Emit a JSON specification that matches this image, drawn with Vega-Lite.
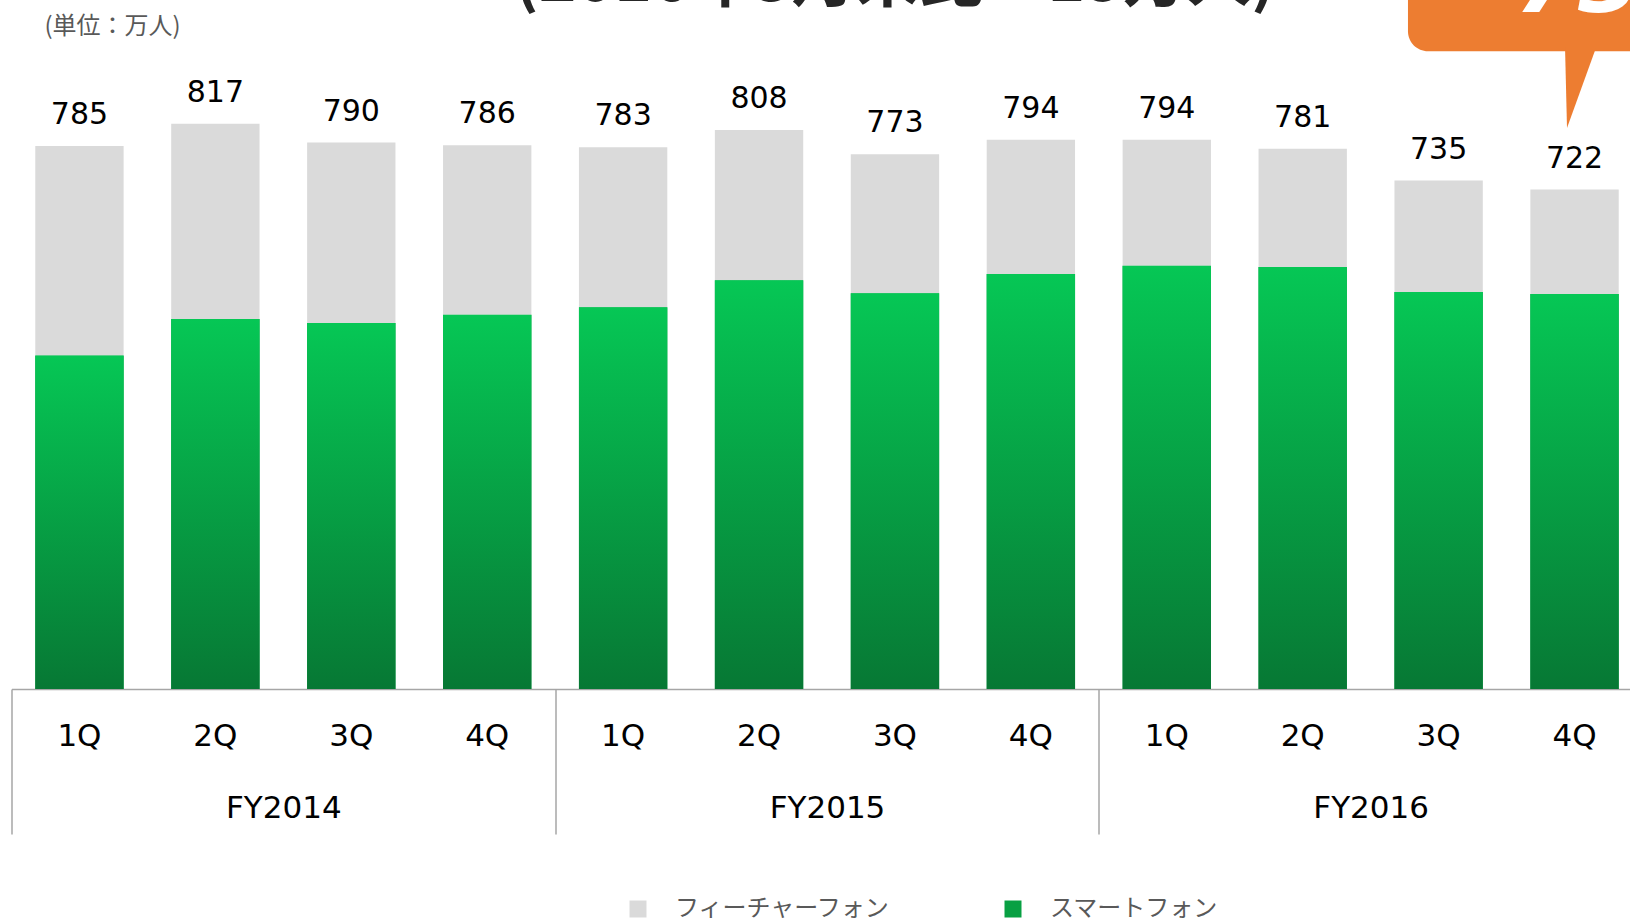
{
  "$schema": "https://vega.github.io/schema/vega-lite/v6.json",
  "width": 1618.5,
  "height": 689,
  "autosize": {"type": "none"},
  "padding": {"left": 11.5, "top": 0, "right": 0, "bottom": 234},
  "background": "white",
  "config": {"view": {"stroke": null}, "font": "DejaVu Sans"},
  "datasets": {
    "q": [
      {"period": "2014-1Q", "series": "スマートフォン", "value": 482},
      {"period": "2014-1Q", "series": "フィーチャーフォン", "value": 303},
      {"period": "2014-2Q", "series": "スマートフォン", "value": 535},
      {"period": "2014-2Q", "series": "フィーチャーフォン", "value": 282},
      {"period": "2014-3Q", "series": "スマートフォン", "value": 529},
      {"period": "2014-3Q", "series": "フィーチャーフォン", "value": 261},
      {"period": "2014-4Q", "series": "スマートフォン", "value": 541},
      {"period": "2014-4Q", "series": "フィーチャーフォン", "value": 245},
      {"period": "2015-1Q", "series": "スマートフォン", "value": 552},
      {"period": "2015-1Q", "series": "フィーチャーフォン", "value": 231},
      {"period": "2015-2Q", "series": "スマートフォン", "value": 591},
      {"period": "2015-2Q", "series": "フィーチャーフォン", "value": 217},
      {"period": "2015-3Q", "series": "スマートフォン", "value": 572},
      {"period": "2015-3Q", "series": "フィーチャーフォン", "value": 201},
      {"period": "2015-4Q", "series": "スマートフォン", "value": 600},
      {"period": "2015-4Q", "series": "フィーチャーフォン", "value": 194},
      {"period": "2016-1Q", "series": "スマートフォン", "value": 612},
      {"period": "2016-1Q", "series": "フィーチャーフォン", "value": 182},
      {"period": "2016-2Q", "series": "スマートフォン", "value": 610},
      {"period": "2016-2Q", "series": "フィーチャーフォン", "value": 171},
      {"period": "2016-3Q", "series": "スマートフォン", "value": 574},
      {"period": "2016-3Q", "series": "フィーチャーフォン", "value": 161},
      {"period": "2016-4Q", "series": "スマートフォン", "value": 571},
      {"period": "2016-4Q", "series": "フィーチャーフォン", "value": 151}
    ],
    "fy": [{"fy": "FY2014"}, {"fy": "FY2015"}, {"fy": "FY2016"}]
  },
  "layer": [
    {
      "layer": [
        {
          "data": {"name": "q"},
          "mark": {"type": "bar"},
          "encoding": {
            "x": {"field": "period", "type": "nominal",
              "scale": {"type": "band", "domain": ["2014-1Q","2014-2Q","2014-3Q","2014-4Q","2015-1Q","2015-2Q","2015-3Q","2015-4Q","2016-1Q","2016-2Q","2016-3Q","2016-4Q"], "paddingInner": 0.35, "paddingOuter": 0.175, "range": [0, 1631]},
              "axis": {"title": null, "orient": "bottom", "labelExpr": "substring(datum.value, 5)", "ticks": false, "domain": true, "domainColor": "#a6a6a6", "domainWidth": 1.5, "labelFontSize": 31, "labelFont": "DejaVu Sans", "labelColor": "#000000", "labelPadding": 56, "labelBaseline": "alphabetic", "labelAngle": 0, "grid": false}},
            "y": {"field": "value", "type": "quantitative", "stack": "zero",
              "scale": {"domain": [0, 996], "nice": false},
              "axis": {"title": "(単位：万人)", "domain": false, "ticks": false, "labels": false, "grid": false, "titleAngle": 0, "titleX": 32.5, "titleY": 33, "titleAlign": "left", "titleBaseline": "alphabetic", "titleFont": "Noto Sans CJK JP", "titleFontSize": 24, "titleFontWeight": "normal", "titleColor": "#595959"}},
            "color": {"field": "series", "type": "nominal",
              "scale": {"domain": ["フィーチャーフォン", "スマートフォン"], "range": ["#dadada", "#08a043"]},
              "legend": {"title": null, "orient": "none", "legendX": 614.5, "legendY": 897, "direction": "horizontal", "symbolType": "square", "symbolSize": 289, "symbolStrokeWidth": 0, "symbolOpacity": 1, "labelFont": "Noto Sans CJK JP", "labelFontSize": 24, "labelColor": "#595959", "labelOffset": 25, "columnPadding": 110, "labelLimit": 400, "padding": 0}},
            "order": {"field": "series", "sort": "ascending"}
          }
        },
        {
          "data": {"name": "q"},
          "transform": [{"filter": "datum.series === 'スマートフォン'"}],
          "mark": {"type": "bar", "fill": {"gradient": "linear", "x1": 0, "y1": 0, "x2": 0, "y2": 1, "stops": [{"offset": 0, "color": "#06c755"}, {"offset": 1, "color": "#077834"}]}},
          "encoding": {
            "x": {"field": "period", "type": "nominal"},
            "y": {"field": "value", "type": "quantitative", "stack": null}
          }
        },
        {
          "data": {"name": "q"},
          "transform": [{"aggregate": [{"op": "sum", "field": "value", "as": "total"}], "groupby": ["period"]}],
          "mark": {"type": "text", "dy": -22, "baseline": "alphabetic", "fontSize": 30, "font": "DejaVu Sans", "color": "#000000"},
          "encoding": {
            "x": {"field": "period", "type": "nominal"},
            "y": {"field": "total", "type": "quantitative"},
            "text": {"field": "total", "type": "quantitative"}
          }
        },
        {
          "data": {"values": [{}]},
          "mark": {"type": "text", "text": "(2016年3月末比▲15万人)", "align": "center", "baseline": "alphabetic", "fontSize": 64, "fontWeight": "bold", "font": "Noto Sans CJK JP", "color": "#262626"},
          "encoding": {
            "x": {"datum": "2015-3Q", "bandPosition": 0.5},
            "y": {"datum": 995}
          }
        },
        {
          "data": {"values": [{}]},
          "mark": {"type": "rect", "color": "#ed7d31", "cornerRadius": 20},
          "encoding": {
            "x": {"datum": "2016-3Q", "bandPosition": 0.153},
            "x2": {"datum": "2016-4Q", "bandPosition": 1.35},
            "y": {"datum": 1030},
            "y2": {"datum": 922}
          }
        },
        {
          "data": {"values": [{}]},
          "mark": {"type": "point", "filled": true, "shape": "M-0.386,-1L0.386,-1L-0.337,1Z", "size": 6889, "color": "#ed7d31", "opacity": 1, "strokeWidth": 0},
          "encoding": {
            "x": {"datum": "2016-4Q", "bandPosition": 0.573},
            "y": {"datum": 871}
          }
        },
        {
          "data": {"values": [{}]},
          "mark": {"type": "text", "text": "73", "align": "left", "baseline": "alphabetic", "fontSize": 90, "fontWeight": "bold", "fontStyle": "italic", "color": "#ffffff", "dx": -15, "font": "DejaVu Sans"},
          "encoding": {
            "x": {"datum": "2016-4Q", "bandPosition": 0},
            "y": {"datum": 979}
          }
        }
      ]
    },
    {
      "data": {"name": "fy"},
      "mark": {"type": "text", "opacity": 0, "text": " "},
      "encoding": {
        "x": {"field": "fy", "type": "nominal",
          "scale": {"type": "band", "paddingInner": 0, "paddingOuter": 0, "range": [0, 1631]},
          "axis": {"title": null, "orient": "bottom", "domain": false, "ticks": true, "tickBand": "extent", "tickSize": 145, "tickColor": "#a6a6a6", "tickWidth": 1.5, "labelPadding": -17, "labelBaseline": "alphabetic", "labelFontSize": 31, "labelFont": "DejaVu Sans", "labelColor": "#000000", "labelAngle": 0, "grid": false}}
      }
    }
  ],
  "resolve": {"scale": {"x": "independent"}, "axis": {"x": "independent"}}
}
